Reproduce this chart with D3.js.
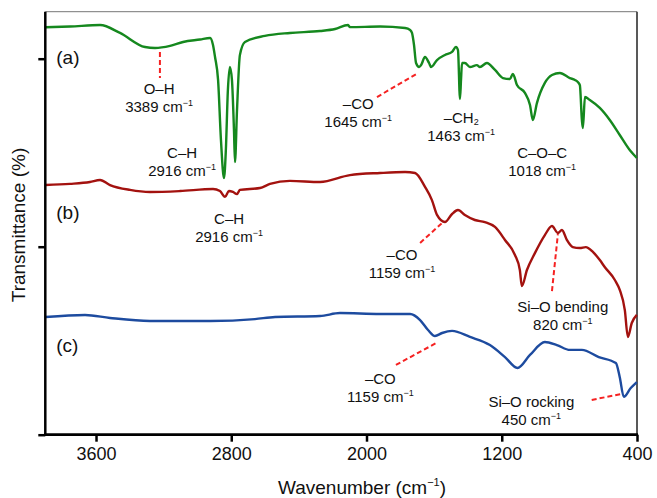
<!DOCTYPE html>
<html>
<head>
<meta charset="utf-8">
<script src="https://cdn.jsdelivr.net/npm/d3@7"></script>
<style>
  body { margin: 0; background: #fff; }
  svg { font-family: "Liberation Sans", Arial, Helvetica, sans-serif; }
</style>
</head>
<body>
<svg width="657" height="498"></svg>
<script>
// spectra as [wavenumber (cm-1), transmittance (a.u., offset)]
var seriesA = [
  [3899, 216.7], [3754, 217.1], [3576, 217.9], [3458, 213.7], [3310, 206.2], [3251, 205.7],
  [3162, 206.8], [3085, 208.9], [2985, 210.2], [2925, 211.0], [2908, 207.3], [2896, 200.9],
  [2878, 188.7], [2861, 156.8], [2843, 136.5], [2832, 151.4], [2820, 183.3], [2808, 195.6],
  [2796, 188.7], [2784, 162.1], [2778, 145.0], [2766, 172.7], [2749, 201.9], [2719, 208.9],
  [2601, 212.1], [2453, 213.7], [2275, 214.7], [2186, 215.8], [2109, 217.9], [2098, 216.8],
  [1920, 217.1], [1772, 216.3], [1742, 215.3], [1731, 213.7], [1719, 207.3], [1707, 197.7],
  [1689, 195.6], [1677, 196.6], [1654, 200.9], [1630, 197.7], [1618, 195.6], [1583, 199.3],
  [1536, 202.0], [1494, 203.6], [1471, 206.2], [1459, 204.6], [1447, 178.6], [1441, 188.7],
  [1435, 197.7], [1418, 197.7], [1388, 195.6], [1347, 196.6], [1329, 195.6], [1288, 197.7],
  [1240, 194.0], [1193, 189.7], [1152, 189.2], [1134, 191.9], [1110, 186.0], [1063, 181.8],
  [1033, 175.4], [1016, 167.4], [992, 176.4], [945, 187.1], [903, 191.3], [856, 192.4],
  [797, 189.7], [767, 188.7], [750, 187.6], [738, 186.0], [726, 167.4], [720, 163.1],
  [708, 179.6], [679, 178.0], [620, 173.8], [561, 167.4], [502, 159.4], [443, 151.4], [401, 147.2]
];
var seriesB = [
  [3899, 132.8], [3754, 133.4], [3636, 134.4], [3576, 135.5], [3517, 132.8], [3399, 130.2],
  [3281, 129.1], [3103, 129.6], [2908, 130.7], [2867, 129.6], [2837, 126.5], [2814, 129.6],
  [2790, 129.1], [2766, 128.0], [2749, 130.2], [2630, 131.2], [2571, 133.4], [2453, 135.0],
  [2275, 134.4], [2098, 138.1], [1920, 139.2], [1772, 139.7], [1713, 139.2], [1654, 131.8],
  [1613, 124.8], [1583, 116.9], [1536, 113.1], [1494, 117.4], [1459, 119.5], [1418, 116.9],
  [1359, 114.2], [1300, 113.1], [1240, 110.5], [1181, 103.6], [1122, 95.6], [1093, 87.6],
  [1081, 79.1], [1051, 87.6], [1004, 96.6], [945, 106.2], [903, 111.0], [868, 107.3],
  [844, 108.9], [815, 103.6], [780, 99.8], [738, 99.3], [703, 99.8], [661, 97.2], [620, 92.9],
  [591, 89.2], [531, 82.3], [502, 77.0], [472, 66.3], [454, 52.0], [431, 59.4], [401, 63.7]
];
var seriesC = [
  [3899, 62.6], [3665, 63.7], [3517, 62.1], [3281, 60.5], [2925, 60.5], [2660, 61.5],
  [2541, 62.6], [2275, 63.1], [2157, 64.7], [1920, 64.2], [1742, 64.2], [1683, 61.0],
  [1636, 55.7], [1595, 52.5], [1553, 54.1], [1494, 55.2], [1388, 52.0], [1270, 47.7],
  [1181, 41.3], [1107, 35.5], [1033, 42.4], [945, 49.3], [874, 47.7], [797, 45.1], [726, 45.1],
  [626, 41.3], [525, 38.1], [502, 30.6], [478, 20.1], [437, 24.8], [401, 28.0]
];
var seriesNames = ['(a)', '(b)', '(c)'];
var seriesLabelY = [197, 115, 44];
var xTicks = [3600, 2800, 2000, 1200, 400];
var yTicks = [0, 100, 200];

// band annotations: label anchor [wn, value], leader line [wn1, v1, wn2, v2]
var bands = [
  { l1: 'O–H', l2: '3389', at: [3227, 181.2], lead: [3222, 203.6, 3222, 189.7] },
  { l1: 'C–H', l2: '2916', at: [3091, 147.2], lead: null },
  { l1: '–CO', l2: '1645', at: [2049, 173.2], lead: [1938, 179.6, 1695, 192.4] },
  { l1: '–CH', sub: '2', l2: '1463', at: [1440, 165.8], lead: null },
  { l1: 'C–O–C', l2: '1018', at: [961, 147.2], lead: null },
  { l1: 'C–H', l2: '2916', at: [2813, 112.1], lead: null },
  { l1: '–CO', l2: '1159', at: [1790, 92.9], lead: [1683, 102.0, 1547, 113.1] },
  { l1: 'Si–O bending', l2: '820', at: [839, 65.3], lead: [903, 76.4, 868, 106.7] },
  { l1: '–CO', l2: '1159', at: [1918, 27.0], lead: [1826, 37.1, 1577, 49.3] },
  { l1: 'Si–O rocking', l2: '450', at: [1025, 14.7], lead: [668, 18.5, 496, 21.6] }
];

var colors = ['#15881e', '#a3120f', '#1d4b9f'];

var svg = d3.select('svg');
var padL = 45.3, padR = 637, padT = 11.7, padB = 434.7;

var x = d3.scaleLinear().domain([3900, 400]).range([padL, padR]);
var y = d3.scaleLinear().domain([0, 225]).range([padB, padT]);

// frame
svg.append('line').attr('x1', padL).attr('x2', padR).attr('y1', padT).attr('y2', padT)
  .attr('stroke', '#777').attr('stroke-width', 1);
svg.append('line').attr('x1', padR).attr('x2', padR).attr('y1', padT).attr('y2', padB)
  .attr('stroke', '#222').attr('stroke-width', 1.5);

// leader lines under curves
var g = svg.append('g');
bands.filter(function(d) { return d.lead; }).forEach(function(d) {
  g.append('line')
    .attr('x1', x(d.lead[0])).attr('y1', y(d.lead[1]))
    .attr('x2', x(d.lead[2])).attr('y2', y(d.lead[3]))
    .attr('stroke', '#f52222').attr('stroke-width', 2)
    .attr('stroke-dasharray', '5,3');
});

var line = d3.line()
  .x(function(d) { return x(d[0]); })
  .y(function(d) { return y(d[1]); })
  .curve(d3.curveMonotoneX);

[seriesA, seriesB, seriesC].forEach(function(s, i) {
  svg.append('path')
    .datum(s)
    .attr('d', line)
    .attr('fill', 'none')
    .attr('stroke', colors[i])
    .attr('stroke-width', 2.4)
    .attr('stroke-linejoin', 'round');
});

// axes
var xAxis = svg.append('g')
  .attr('transform', 'translate(0,' + padB + ')')
  .call(d3.axisBottom(x).tickValues(xTicks).tickSize(7).tickSizeOuter(0).tickFormat(d3.format('d')));
xAxis.select('.domain').remove();
xAxis.attr('font-size', 18).attr('font-family', '"Liberation Sans", Arial, sans-serif');
xAxis.selectAll('.tick line').attr('stroke', '#000').attr('stroke-width', 2.5);
xAxis.selectAll('.tick text').attr('fill', '#111').attr('y', 13);

var yAxis = svg.append('g')
  .attr('transform', 'translate(' + padL + ',0)')
  .call(d3.axisLeft(y).tickValues(yTicks).tickSize(7).tickSizeOuter(0).tickFormat(''));
yAxis.select('.domain').remove();
yAxis.selectAll('.tick line').attr('stroke', '#000').attr('stroke-width', 2.5);

svg.append('line').attr('x1', padL).attr('x2', padL).attr('y1', padT).attr('y2', padB + 1.2)
  .attr('stroke', '#000').attr('stroke-width', 2.5);
svg.append('line').attr('x1', padL - 1.2).attr('x2', padR + 1).attr('y1', padB).attr('y2', padB)
  .attr('stroke', '#000').attr('stroke-width', 2.8);

// axis titles
var xt = svg.append('text').attr('x', 362).attr('y', 494).attr('text-anchor', 'middle')
  .attr('font-size', 19).attr('fill', '#111');
xt.append('tspan').text('Wavenumber (cm');
xt.append('tspan').attr('font-size', 11).attr('dy', -8).text('−1');
xt.append('tspan').attr('dy', 8).text(')');

svg.append('text')
  .attr('transform', 'translate(25,225) rotate(-90)')
  .attr('text-anchor', 'middle').attr('font-size', 19).attr('fill', '#111')
  .text('Transmittance (%)');

// series labels
seriesNames.forEach(function(n, i) {
  svg.append('text').attr('x', padL + 11).attr('y', y(seriesLabelY[i]))
    .attr('font-size', 19).attr('fill', '#111').text(n);
});

// band labels
bands.forEach(function(d) {
  var cx = x(d.at[0]), cy = y(d.at[1]);
  var t1 = svg.append('text').attr('x', cx).attr('y', cy).attr('text-anchor', 'middle')
    .attr('font-size', 15).attr('fill', '#111');
  t1.append('tspan').text(d.l1);
  if (d.sub) t1.append('tspan').attr('font-size', 9).attr('dy', 2).text(d.sub);
  var t2 = svg.append('text').attr('x', cx).attr('y', cy + 18).attr('text-anchor', 'middle')
    .attr('font-size', 15).attr('fill', '#111');
  t2.append('tspan').text(d.l2 + ' cm');
  t2.append('tspan').attr('font-size', 9).attr('dy', -6).text('−1');
});
</script>
</body>
</html>
